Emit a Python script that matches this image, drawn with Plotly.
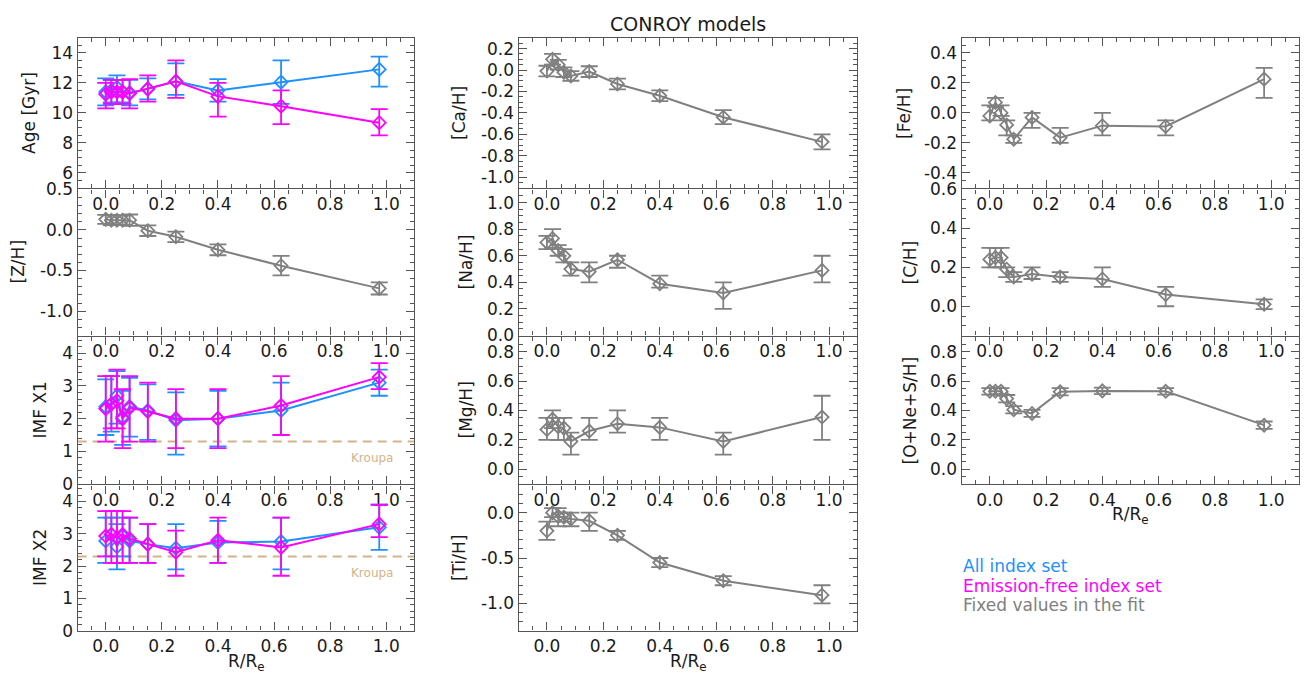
import plotly.graph_objects as go

W, H = 1310, 685

# ---------------- data ----------------
R = [0.0, 0.02, 0.04, 0.06, 0.085, 0.15, 0.25, 0.40, 0.625, 0.975]

AGE_ALL = [11.4, 11.5, 11.7, 11.4, 11.35, 11.6, 12.1, 11.5, 12.05, 12.9]
AGE_ALL_HI = [12.3, 12.2, 12.5, 12.2, 12.2, 12.3, 13.3, 12.25, 13.5, 13.75]
AGE_ALL_LO = [10.5, 10.7, 10.6, 10.7, 10.5, 10.9, 11.2, 10.75, 10.6, 11.75]
AGE_EF = [11.25, 11.4, 11.4, 11.4, 11.3, 11.6, 12.1, 11.1, 10.45, 9.35]
AGE_EF_HI = [12.0, 12.2, 12.2, 12.2, 12.25, 12.5, 13.5, 12.0, 11.5, 10.25]
AGE_EF_LO = [10.3, 10.6, 10.6, 10.6, 10.3, 10.75, 11.0, 9.75, 9.25, 8.5]

ZH = [0.13, 0.12, 0.12, 0.12, 0.12, -0.01, -0.085, -0.245, -0.44, -0.72]
ZH_ERR = [0.055, 0.06, 0.06, 0.06, 0.07, 0.065, 0.065, 0.067, 0.12, 0.075]

X1_ALL = [2.36, 2.45, 2.7, 2.05, 2.37, 2.25, 1.95, 2.0, 2.25, 3.1]
X1_ALL_HI = [3.2, 3.3, 3.45, 2.85, 3.25, 3.05, 2.8, 2.85, 3.1, 3.5]
X1_ALL_LO = [1.5, 1.6, 1.85, 1.2, 1.45, 1.35, 0.9, 1.15, 1.5, 2.7]
X1_EF = [2.3, 2.45, 2.55, 2.0, 2.33, 2.22, 2.0, 2.0, 2.4, 3.27]
X1_EF_HI = [3.3, 3.3, 3.5, 2.9, 3.3, 3.1, 2.9, 2.9, 3.3, 3.7]
X1_EF_LO = [1.3, 1.7, 1.7, 1.1, 1.3, 1.3, 1.1, 1.1, 1.5, 2.9]

X2_ALL = [2.78, 2.98, 2.6, 2.93, 2.78, 2.68, 2.55, 2.73, 2.76, 3.2]
X2_ALL_HI = [3.5, 3.5, 3.3, 3.5, 3.5, 3.3, 3.3, 3.4, 3.5, 3.9]
X2_ALL_LO = [2.1, 2.3, 1.9, 2.3, 2.1, 2.1, 1.9, 2.1, 1.9, 2.5]
X2_EF = [2.93, 2.98, 2.88, 2.98, 2.85, 2.68, 2.43, 2.8, 2.58, 3.3]
X2_EF_HI = [3.7, 3.7, 3.7, 3.7, 3.5, 3.3, 3.1, 3.5, 3.5, 3.9]
X2_EF_LO = [2.3, 2.1, 2.1, 2.1, 2.1, 2.1, 1.7, 2.1, 1.7, 2.9]

KROUPA_X1 = 1.3
KROUPA_X2 = 2.3

CAH = [-0.01, 0.10, 0.05, -0.02, -0.055, -0.015, -0.13, -0.24, -0.44, -0.67]
CAH_ERR = [0.05, 0.05, 0.045, 0.045, 0.045, 0.05, 0.05, 0.05, 0.065, 0.07]

NAH = [0.70, 0.73, 0.64, 0.60, 0.50, 0.48, 0.57, 0.39, 0.32, 0.49]
NAH_HI = [0.75, 0.80, 0.68, 0.65, 0.55, 0.55, 0.60, 0.45, 0.40, 0.60]
NAH_LO = [0.65, 0.66, 0.60, 0.55, 0.45, 0.40, 0.51, 0.36, 0.20, 0.40]

MGH = [0.27, 0.34, 0.29, 0.28, 0.19, 0.26, 0.31, 0.285, 0.19, 0.355]
MGH_HI = [0.35, 0.40, 0.35, 0.35, 0.25, 0.35, 0.40, 0.35, 0.25, 0.50]
MGH_LO = [0.20, 0.28, 0.20, 0.20, 0.10, 0.20, 0.25, 0.20, 0.10, 0.20]

TIH = [-0.20, 0.0, -0.04, -0.05, -0.07, -0.09, -0.25, -0.55, -0.75, -0.91]
TIH_HI = [-0.10, 0.05, 0.05, 0.0, 0.0, 0.0, -0.20, -0.50, -0.70, -0.80]
TIH_LO = [-0.30, -0.05, -0.15, -0.10, -0.15, -0.20, -0.30, -0.60, -0.80, -1.00]

FEH = [-0.02, 0.07, 0.0, -0.08, -0.175, -0.03, -0.165, -0.085, -0.09, 0.225]
FEH_HI = [0.05, 0.10, 0.05, -0.05, -0.15, 0.0, -0.10, 0.0, -0.05, 0.30]
FEH_LO = [-0.05, 0.04, -0.02, -0.15, -0.20, -0.10, -0.20, -0.15, -0.15, 0.10]

CH = [0.24, 0.25, 0.25, 0.19, 0.15, 0.165, 0.15, 0.14, 0.06, 0.01]
CH_HI = [0.30, 0.30, 0.30, 0.20, 0.175, 0.20, 0.175, 0.20, 0.10, 0.035]
CH_LO = [0.20, 0.20, 0.20, 0.15, 0.125, 0.14, 0.125, 0.10, 0.0, -0.015]

ONSH = [0.53, 0.53, 0.53, 0.48, 0.405, 0.38, 0.527, 0.533, 0.53, 0.30]
ONSH_ERR = [0.022, 0.022, 0.022, 0.025, 0.025, 0.024, 0.025, 0.022, 0.022, 0.025]

# tick labels
R_TICKS = [0.0, 0.2, 0.4, 0.6, 0.8, 1.0]
AGE_TICKS = [6, 8, 10, 12, 14]
ZH_TICKS = [-1.0, -0.5, 0.0, 0.5]
IMF_TICKS = [0, 1, 2, 3, 4]
CA_TICKS = [-1.0, -0.8, -0.6, -0.4, -0.2, 0.0, 0.2]
NA_TICKS = [0.0, 0.2, 0.4, 0.6, 0.8, 1.0]
MG_TICKS = [0.0, 0.2, 0.4, 0.6, 0.8]
TI_TICKS = [-1.0, -0.5, 0.0]
FE_TICKS = [-0.4, -0.2, 0.0, 0.2, 0.4]
C_TICKS = [0.0, 0.2, 0.4, 0.6]
ONS_TICKS = [0.0, 0.2, 0.4, 0.6, 0.8]

# ---------------- style ----------------
FRAME = "#555555"
BLUE = "#1e90ff"
MAG = "#ff00ff"
GREY = "#808080"
TAN = "#d2b48c"
FONT = "DejaVu Sans"
LW = 1.4

COLS = {"L": (77, 415), "M": (518, 858), "R": (961, 1300)}
ROWS = [(28, 184), (184, 336), (336, 489), (489, 640)]


def fmt1(v):
    return f"{v:.1f}"


def fmti(v):
    return f"{int(v)}"


def hilo(val, hi, lo):
    return ([h - v for h, v in zip(hi, val)], [v - l for v, l in zip(val, lo)])


def sym(err):
    return (list(err), list(err))


panels = [
    dict(col="L", row=0, yr=[5, 15], tv=AGE_TICKS, tf=fmti, minor=0.5, title="Age [Gyr]", tx=29,
         series=[(AGE_ALL, hilo(AGE_ALL, AGE_ALL_HI, AGE_ALL_LO), BLUE),
                 (AGE_EF, hilo(AGE_EF, AGE_EF_HI, AGE_EF_LO), MAG)]),
    dict(col="L", row=1, yr=[-1.3, 0.5], tv=ZH_TICKS, tf=fmt1, minor=0.1, title="[Z/H]", tx=18,
         series=[(ZH, sym(ZH_ERR), GREY)]),
    dict(col="L", row=2, yr=[0, 4.5], tv=IMF_TICKS, tf=fmti, minor=0.2, title="IMF X1", tx=40,
         series=[(X1_ALL, hilo(X1_ALL, X1_ALL_HI, X1_ALL_LO), BLUE),
                 (X1_EF, hilo(X1_EF, X1_EF_HI, X1_EF_LO), MAG)], kroupa=KROUPA_X1),
    dict(col="L", row=3, yr=[0, 4.5], tv=IMF_TICKS, tf=fmti, minor=0.2, title="IMF X2", tx=40,
         series=[(X2_ALL, hilo(X2_ALL, X2_ALL_HI, X2_ALL_LO), BLUE),
                 (X2_EF, hilo(X2_EF, X2_EF_HI, X2_EF_LO), MAG)], kroupa=KROUPA_X2, xtitle=True),
    dict(col="M", row=0, yr=[-1.1, 0.3], tv=CA_TICKS, tf=fmt1, minor=0.05, title="[Ca/H]", tx=459,
         series=[(CAH, sym(CAH_ERR), GREY)]),
    dict(col="M", row=1, yr=[0, 1.1], tv=NA_TICKS, tf=fmt1, minor=0.05, title="[Na/H]", tx=466,
         series=[(NAH, hilo(NAH, NAH_HI, NAH_LO), GREY)]),
    dict(col="M", row=2, yr=[-0.1, 0.9], tv=MG_TICKS, tf=fmt1, minor=0.05, title="[Mg/H]", tx=466,
         series=[(MGH, hilo(MGH, MGH_HI, MGH_LO), GREY)]),
    dict(col="M", row=3, yr=[-1.3, 0.3], tv=TI_TICKS, tf=fmt1, minor=0.1, title="[Ti/H]", tx=459,
         series=[(TIH, hilo(TIH, TIH_HI, TIH_LO), GREY)], xtitle=True),
    dict(col="R", row=0, yr=[-0.5, 0.5], tv=FE_TICKS, tf=fmt1, minor=0.05, title="[Fe/H]", tx=904,
         series=[(FEH, hilo(FEH, FEH_HI, FEH_LO), GREY)]),
    dict(col="R", row=1, yr=[-0.15, 0.6], tv=C_TICKS, tf=fmt1, minor=0.05, title="[C/H]", tx=910,
         series=[(CH, hilo(CH, CH_HI, CH_LO), GREY)]),
    dict(col="R", row=2, yr=[-0.1, 0.9], tv=ONS_TICKS, tf=fmt1, minor=0.05, title="[O+Ne+S/H]", tx=910,
         series=[(ONSH, sym(ONSH_ERR), GREY)], xtitle=True),
]

fig = go.Figure()
layout = {}
annotations = []
shapes = []

tickfont = dict(family=FONT, size=17, color="#1a1a1a")
common = dict(showline=True, linecolor=FRAME, linewidth=LW, mirror="allticks",
              ticks="inside", ticklen=8, tickwidth=1.3, tickcolor=FRAME,
              showgrid=False, zeroline=False, tickfont=tickfont, tickmode="array")

for i, p in enumerate(panels, start=1):
    xn = "x" if i == 1 else f"x{i}"
    yn = "y" if i == 1 else f"y{i}"
    xk = "xaxis" if i == 1 else f"xaxis{i}"
    yk = "yaxis" if i == 1 else f"yaxis{i}"
    x0, x1 = COLS[p["col"]]
    top, bot = ROWS[p["row"]]
    # shrink each plot area by half the frame width so that frames of stacked
    # panels coincide on a single line
    ptop = top + LW / 2
    pbot = bot - LW / 2
    px0 = x0 + LW / 2
    px1 = x1 - LW / 2
    layout[xk] = dict(common, domain=[px0 / W, px1 / W], range=[-0.1, 1.1], anchor=yn,
                      tickvals=R_TICKS, ticktext=[fmt1(v) for v in R_TICKS],
                      minor=dict(tickmode="linear", tick0=0, dtick=0.05, ticks="inside",
                                 ticklen=4, tickwidth=1.2, tickcolor=FRAME, showgrid=False))
    layout[yk] = dict(common, domain=[1 - pbot / H, 1 - ptop / H], range=p["yr"], anchor=xn,
                      tickvals=p["tv"], ticktext=[p["tf"](v) for v in p["tv"]],
                      minor=dict(tickmode="linear", tick0=0, dtick=p["minor"], ticks="inside",
                                 ticklen=4, tickwidth=1.2, tickcolor=FRAME, showgrid=False))

    if "kroupa" in p:
        shapes.append(dict(type="line", xref=f"{xn} domain", x0=0, x1=1, yref=yn,
                           y0=p["kroupa"], y1=p["kroupa"], layer="below",
                           line=dict(color=TAN, width=2, dash="9px,6px")))
        annotations.append(dict(text="Kroupa", xref=xn, yref=yn, x=0.948,
                                y=p["kroupa"] - 0.5, showarrow=False,
                                font=dict(family=FONT, size=12, color=TAN)))

    for vals, (ep, em), color in p["series"]:
        fig.add_trace(go.Scatter(
            x=R, y=vals, xaxis=xn, yaxis=yn, mode="lines+markers",
            line=dict(color=color, width=2),
            marker=dict(symbol="diamond-open", size=10, color=color, line=dict(width=1.8, color=color)),
            error_y=dict(type="data", symmetric=False, array=ep, arrayminus=em,
                         color=color, thickness=1.8, width=8.5),
            showlegend=False, hoverinfo="skip"))

    annotations.append(dict(text=p["title"], xref="paper", yref=f"{yn} domain",
                            x=p["tx"] / W, y=0.5, xanchor="center", yanchor="middle",
                            textangle=-90, showarrow=False,
                            font=dict(family=FONT, size=17, color="#1a1a1a")))
    if p.get("xtitle"):
        annotations.append(dict(text="R/R<sub>e</sub>", xref=f"{xn} domain", yref="paper",
                                x=0.5, y=1 - (bot + 32) / H, xanchor="center", yanchor="middle",
                                showarrow=False,
                                font=dict(family=FONT, size=17, color="#1a1a1a")))

annotations.append(dict(text="CONROY models", xref="paper", yref="paper",
                        x=688 / W, y=1 - 14 / H, xanchor="center", yanchor="middle",
                        showarrow=False, font=dict(family=FONT, size=19, color="#1a1a1a")))

for txt, color, yc in [("All index set", BLUE, 573), ("Emission-free index set", MAG, 593),
                       ("Fixed values in the fit", GREY, 613)]:
    annotations.append(dict(text=txt, xref="paper", yref="paper", x=961 / W, y=1 - yc / H,
                            xanchor="left", yanchor="middle", showarrow=False,
                            font=dict(family=FONT, size=17, color=color)))

fig.update_layout(**layout)
fig.update_layout(width=W, height=H, margin=dict(l=0, r=0, t=0, b=0),
                  paper_bgcolor="white", plot_bgcolor="white",
                  font=dict(family=FONT), annotations=annotations, shapes=shapes)

fig.write_html("out.html", config=dict(displayModeBar=False))
